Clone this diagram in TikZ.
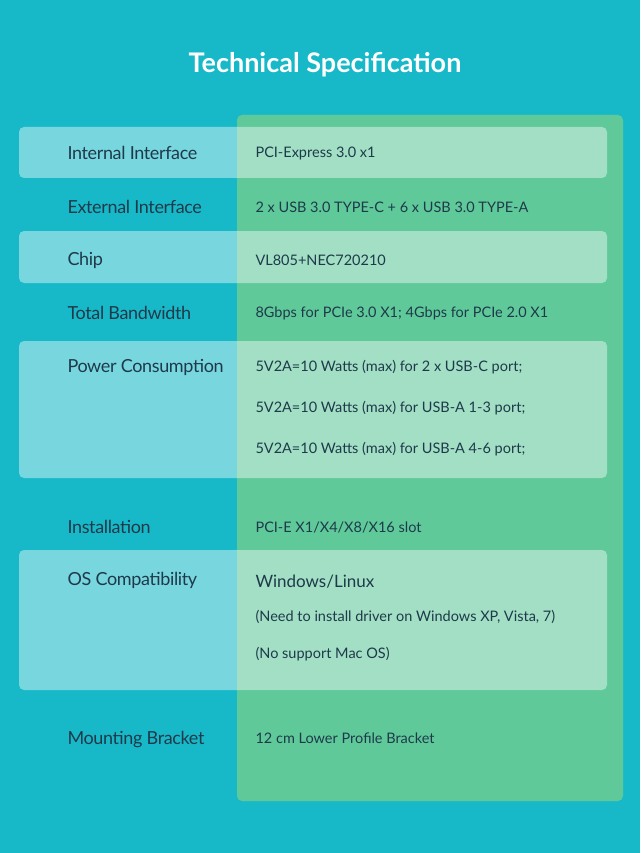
\documentclass[tikz,border=0pt]{standalone}
\usepackage{fontspec}
\setmainfont{Lato}
\definecolor{bg}{HTML}{17B9C9}
\definecolor{grn}{HTML}{60C99A}
\definecolor{txt}{HTML}{1E3A4A}
\begin{document}
\begin{tikzpicture}[x=1pt,y=-1pt,
  rowbg/.style={fill=white,fill opacity=0.42,rounded corners=5pt},
  lab/.style={anchor=west,text=txt,font=\fontsize{18}{20}\selectfont\addfontfeature{LetterSpace=-2}},
  val/.style={anchor=west,text=txt,font=\fontsize{14.5}{16}\selectfont}]
\fill[bg] (0,0) rectangle (640,853);
\useasboundingbox (0,0) rectangle (640,853);
\node[text=white,font=\bfseries\fontsize{27}{30}\selectfont] (title) at (325,65) {Technical Specification};
\fill[grn,rounded corners=5pt] (237,115) rectangle (623,801);
\fill[rowbg] (19,127) rectangle (607,178);
\fill[rowbg] (19,231) rectangle (607,283);
\fill[rowbg] (19,341) rectangle (607,478);
\fill[rowbg] (19,550) rectangle (607,690);
\node[lab] (l1) at (64,153) {Internal Interface};
\node[lab] (l2) at (64,207) {External Interface};
\node[lab] (l3) at (64,260) {Chip};
\node[lab] (l4) at (64,313) {Total Bandwidth};
\node[lab] (l5) at (64,367) {Power Consumption};
\node[lab] (l6) at (64,527) {Installation};
\node[lab] (l7) at (64,580) {OS Compatibility};
\node[lab] (l8) at (64,740) {Mounting Bracket};
\node[val] (v1) at (252,153) {PCI-Express 3.0 x1};
\node[val] (v2) at (252,207) {2 x USB 3.0 TYPE-C + 6 x USB 3.0 TYPE-A};
\node[val] (v3) at (252,260) {VL805+NEC720210};
\node[val] (v4) at (252,313) {8Gbps for PCIe 3.0 X1; 4Gbps for PCIe 2.0 X1};
\node[val] (v5a) at (252,367) {5V2A=10 Watts (max) for 2 x USB-C port;};
\node[val] (v5b) at (252,408) {5V2A=10 Watts (max) for USB-A 1-3 port;};
\node[val] (v5c) at (252,449) {5V2A=10 Watts (max) for USB-A 4-6 port;};
\node[val] (v6) at (252,527) {PCI-E X1/X4/X8/X16 slot};
\node[val,font=\fontsize{17}{19}\selectfont] (v7a) at (252,582) {Windows/Linux};
\node[val] (v7b) at (252,617) {(Need to install driver on Windows XP, Vista, 7)};
\node[val] (v7c) at (252,654) {(No support Mac OS)};
\node[val] (v8) at (252,738) {12 cm Lower Profile Bracket};
\end{tikzpicture}
\end{document}
